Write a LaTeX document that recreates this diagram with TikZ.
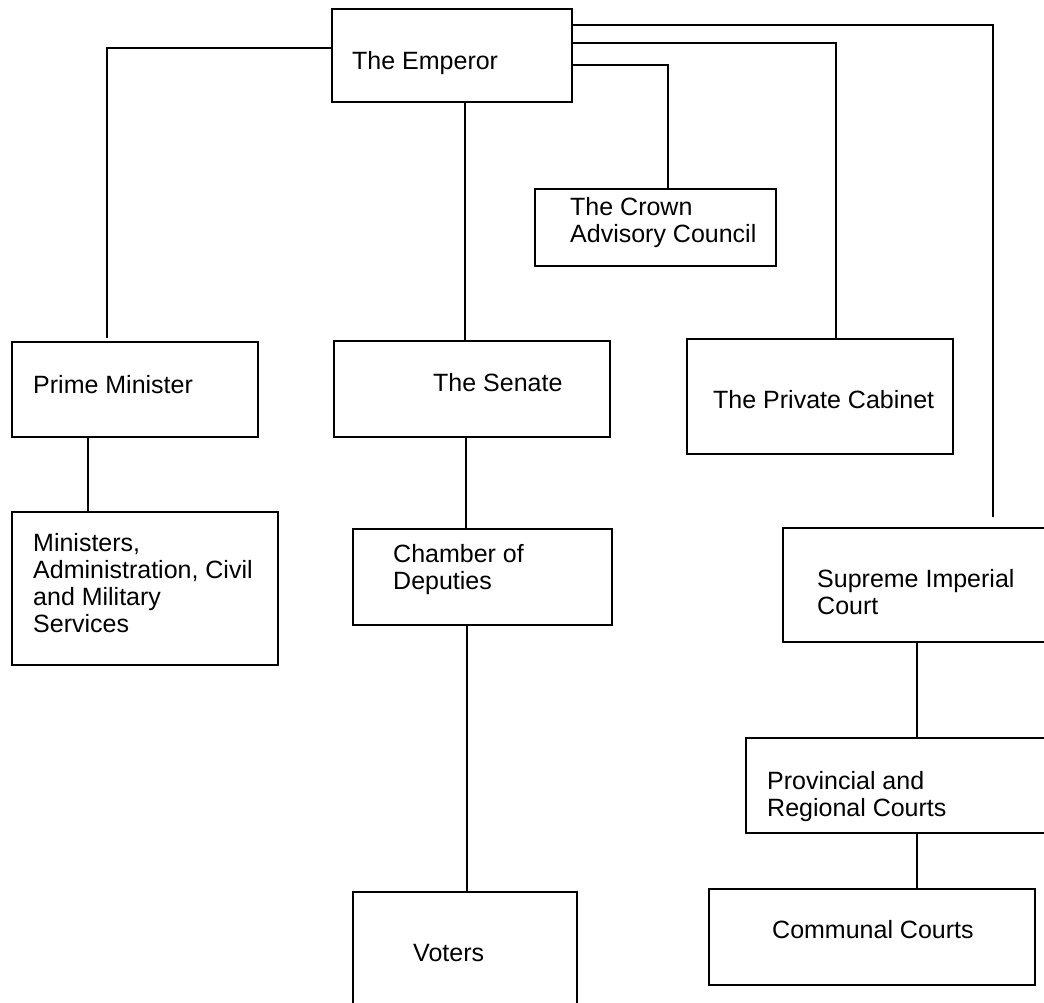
\documentclass[tikz,border=0pt]{standalone}
\usepackage{fontspec}
\setmainfont{Liberation Sans}
\usetikzlibrary{fit,calc}
\begin{document}
\begin{tikzpicture}[x=1pt,y=-1pt,
  box/.style={draw, line width=2pt, inner sep=0pt},
  lbl/.style={font=\fontsize{25}{27}\selectfont, inner sep=0pt, anchor=west, align=left},
  link/.style={line width=1.8pt}]
\useasboundingbox (0,0) rectangle (1044,1003);

% boxes
\node[box, fit={(332,9)(572,102)}] (emp) {};
\node[box, fit={(535,189)(776,266)}] (crown) {};
\node[box, fit={(12,342)(258,437)}] (pm) {};
\node[box, fit={(334,341)(610,437)}] (sen) {};
\node[box, fit={(687,339)(953,454)}] (pc) {};
\node[box, fit={(12,512)(278,665)}] (min) {};
\node[box, fit={(353,529)(612,625)}] (cod) {};
\node[box, fit={(783,528)(1056,642)}] (sup) {};
\node[box, fit={(746,738)(1056,833)}] (prov) {};
\node[box, fit={(709,889)(1035,985)}] (comm) {};
\node[box, fit={(353,892)(577,1012)}] (vot) {};

% labels
\node[lbl] (tEmp) at (352,63) {The Emperor};
\node[lbl] (tCrown) at (570,223) {The Crown\\Advisory Council};
\node[lbl] (tPm) at (33,385) {Prime Minister};
\node[lbl] (tSen) at (433,383) {The Senate};
\node[lbl] (tPc) at (713,400) {The Private Cabinet};
\node[lbl] (tMin) at (33,583) {Ministers,\\Administration, Civil\\and Military\\Services};
\node[lbl] (tCod) at (393,570) {Chamber of\\Deputies};
\node[lbl] (tSup) at (817,592) {Supreme Imperial\\Court};
\node[lbl] (tProv) at (767,797) {Provincial and\\Regional Courts};
\node[lbl] (tComm) at (772,930) {Communal Courts};
\node[lbl] (tVot) at (413,953) {Voters};

% routing points of the connectors
\coordinate (kPm) at (107,48);
\coordinate (kCrown) at (668,65);
\coordinate (kPc) at (836,43);
\coordinate (kSup) at (993,25);
\coordinate (kSen) at (465,0);
\coordinate (kMin) at (88,0);
\coordinate (kCod) at (466,0);
\coordinate (kVot) at (467,0);
\coordinate (kCourts) at (917,0);

% connectors
\draw[link] (emp.west |- kPm) -| ($(pm.north -| kPm)+(0,-3)$);
\draw[link] (emp.east |- kCrown) -| (crown.north -| kCrown);
\draw[link] (emp.east |- kPc) -| (pc.north -| kPc);
\draw[link] (emp.east |- kSup) -| ($(sup.north -| kSup)+(0,-10)$);
\draw[link] (emp.south -| kSen) -- (sen.north -| kSen);
\draw[link] (pm.south -| kMin) -- (min.north -| kMin);
\draw[link] (sen.south -| kCod) -- (cod.north -| kCod);
\draw[link] (cod.south -| kVot) -- (vot.north -| kVot);
\draw[link] (prov.north -| kCourts) -- (sup.south -| kCourts);
\draw[link] (prov.south -| kCourts) -- (comm.north -| kCourts);
\end{tikzpicture}
\end{document}
